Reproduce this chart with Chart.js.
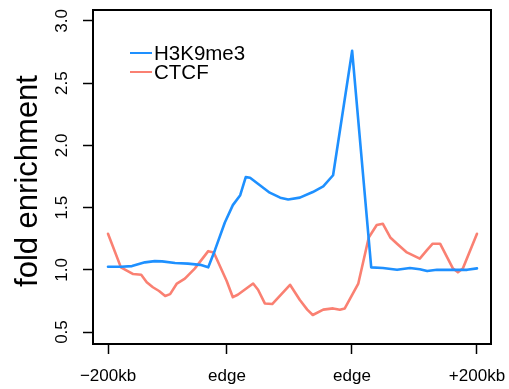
<!DOCTYPE html>
<html>
<head>
<meta charset="utf-8">
<script src="https://cdn.jsdelivr.net/npm/chart.js@4"></script>
<style>
  html, body { margin: 0; padding: 0; background: #fff; }
  #wrap { width: 509px; height: 389px; position: relative; }
</style>
</head>
<body>
<div id="wrap"><canvas id="chart-profil"></canvas></div>
<script>
// ═══════════════════════════════════════════
// Profil – Fold enrichment über Domänengrenzen
// ═══════════════════════════════════════════

// x-Position in Bins (0 = −200kb, 60 = +200kb)
const tickPos    = [0, 19.35, 39.67, 60];
const tickLabels = ['\u2212200kb', 'edge', 'edge', '+200kb'];
const yTicks     = [0.5, 1.0, 1.5, 2.0, 2.5, 3.0];

const h3k9X = [0, 2.1, 3.9, 6.0, 7.6, 8.8, 10.9, 13.0, 15.0, 16.3, 17.4, 19.0, 20.3, 21.5, 22.4, 23.1,
               24.7, 26.3, 28.0, 29.3, 31.2, 33.3, 35.0, 36.6, 39.7, 42.8, 44.7, 47.0, 49.1, 50.7,
               51.9, 53.5, 56.7, 58.4, 60];
const h3k9Y = [1.025, 1.025, 1.03, 1.06, 1.07, 1.068, 1.055, 1.05, 1.04, 1.02, 1.16, 1.38, 1.52, 1.60, 1.745, 1.74,
               1.68, 1.62, 1.58, 1.565, 1.58, 1.625, 1.67, 1.76, 2.76, 1.02, 1.015, 1.00, 1.015, 1.005,
               0.99, 1.0, 1.0, 1.0, 1.012];

const ctcfX = [0, 2.1, 4.1, 5.4, 6.3, 7.3, 8.3, 9.3, 10.1, 11.2, 12.5, 14.1, 16.3, 17.2, 19.3, 20.3,
               21.1, 23.6, 24.4, 25.5, 26.7, 29.6, 31.2, 32.4, 33.3, 35.0, 36.6, 37.7, 38.5, 40.7,
               42.4, 43.7, 44.7, 45.9, 47.0, 48.6, 50.7, 51.9, 52.8, 54.0, 56.1, 56.9, 57.7, 60];
const ctcfY = [1.29, 1.02, 0.966, 0.96, 0.90, 0.86, 0.83, 0.79, 0.805, 0.89, 0.93, 1.01, 1.15, 1.14, 0.91, 0.78,
               0.80, 0.89, 0.84, 0.73, 0.725, 0.88, 0.757, 0.68, 0.637, 0.68, 0.69, 0.68, 0.69, 0.89,
               1.26, 1.36, 1.37, 1.26, 1.21, 1.14, 1.09, 1.16, 1.21, 1.21, 1.01, 0.98, 1.01, 1.29];

const serien = [
  { name: 'H3K9me3', farbe: '#1E90FF', x: h3k9X, y: h3k9Y },
  { name: 'CTCF',    farbe: '#FA8072', x: ctcfX, y: ctcfY }
];

const yTitel = 'fold enrichment';
const FONT = '"Liberation Sans", Arial, Helvetica, sans-serif';

// ── Rahmen um die Plotfläche (wie R box()) ──
const rahmenPlugin = {
  id: 'rahmen',
  afterDraw(chart) {
    const { ctx, chartArea: a } = chart;
    ctx.save();
    ctx.strokeStyle = '#000';
    ctx.lineWidth = 2;
    ctx.strokeRect(a.left, a.top, a.right - a.left, a.bottom - a.top);
    ctx.restore();
  }
};

// ── Legende oben links + y-Achsentitel ──
const beschriftungPlugin = {
  id: 'beschriftung',
  afterDraw(chart) {
    const { ctx } = chart;
    ctx.save();
    ctx.font = '20.5px ' + FONT;
    ctx.textBaseline = 'middle';
    serien.forEach((s, i) => {
      const y = 53 + i * 19;
      ctx.strokeStyle = s.farbe;
      ctx.lineWidth = 2;
      ctx.beginPath();
      ctx.moveTo(130, y);
      ctx.lineTo(152, y);
      ctx.stroke();
      ctx.fillStyle = '#000';
      ctx.fillText(s.name, 154, y + 1);
    });

    // Titel gedreht, etwas unter der Mitte wie im Original
    ctx.translate(28, 181);
    ctx.rotate(-Math.PI / 2);
    ctx.font = '31px ' + FONT;
    ctx.textAlign = 'center';
    ctx.fillText(yTitel, 0, 0);
    ctx.restore();
  }
};

new Chart(document.getElementById('chart-profil'), {
  type: 'line',
  data: {
    datasets: serien.map(s => ({
      label: s.name,
      data: s.x.map((x, i) => ({ x, y: s.y[i] })),
      borderColor: s.farbe,
      borderWidth: 2.6,
      borderJoinStyle: 'round',
      borderCapStyle: 'round',
      pointRadius: 0,
      tension: 0,
      fill: false
    }))
  },
  options: {
    responsive: true,
    maintainAspectRatio: false,
    animation: false,
    layout: { padding: { top: 10, right: 18, bottom: 0, left: 0 }, autoPadding: false },
    plugins: {
      legend: { display: false },
      tooltip: { enabled: false }
    },
    scales: {
      x: {
        type: 'linear',
        min: -2.44,
        max: 62.28,
        afterBuildTicks: sc => { sc.ticks = tickPos.map(v => ({ value: v })); },
        afterFit: sc => { sc.height = 45; sc.paddingLeft = 0; sc.paddingRight = 0; },
        border: { display: false },
        grid: { drawOnChartArea: false, drawTicks: true, tickLength: 10, tickColor: '#000', tickWidth: 1.5 },
        ticks: {
          autoSkip: false,
          maxRotation: 0,
          padding: 12,
          color: '#000',
          font: { family: FONT, size: 17 },
          callback: v => tickLabels[tickPos.indexOf(v)]
        }
      },
      y: {
        min: 0.404,
        max: 3.088,
        afterBuildTicks: sc => { sc.ticks = yTicks.map(v => ({ value: v })); },
        afterFit: sc => { sc.width = 93; sc.paddingTop = 0; sc.paddingBottom = 0; },
        border: { display: false },
        grid: { drawOnChartArea: false, drawTicks: true, tickLength: 10, tickColor: '#000', tickWidth: 1.5 },
        ticks: {
          minRotation: 90,
          maxRotation: 90,
          crossAlign: 'center',
          padding: 9,
          color: '#000',
          font: { family: FONT, size: 17 },
          callback: v => v.toFixed(1)
        }
      }
    }
  },
  plugins: [rahmenPlugin, beschriftungPlugin]
});
</script>
</body>
</html>
